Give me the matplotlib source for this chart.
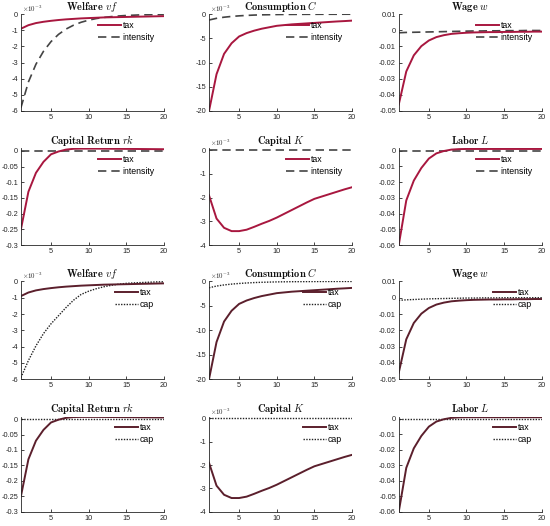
import numpy as np
import matplotlib
matplotlib.use("Agg")
import matplotlib.pyplot as plt
from matplotlib.ticker import FormatStrFormatter

plt.rcParams['mathtext.fontset'] = 'cm'
plt.rcParams['axes.unicode_minus'] = False
plt.rcParams['font.family'] = ['Liberation Sans', 'DejaVu Sans']

periods = np.arange(1, 21)

# impulse responses (welfare, consumption, capital in units of 1e-3)
welfare_tax = [-0.90, -0.68, -0.55, -0.47, -0.41, -0.36, -0.32, -0.29, -0.26, -0.24,
               -0.22, -0.20, -0.19, -0.18, -0.17, -0.16, -0.15, -0.14, -0.13, -0.12]
welfare_intensity = [-5.8, -4.2, -3.1, -2.3, -1.7, -1.25, -0.92, -0.68, -0.50, -0.37,
                     -0.27, -0.20, -0.15, -0.11, -0.08, -0.06, -0.04, -0.03, -0.02, -0.02]
welfare_cap = [-5.9, -4.85, -3.95, -3.2, -2.6, -2.1, -1.6, -1.15, -0.80, -0.60,
               -0.45, -0.33, -0.24, -0.17, -0.12, -0.09, -0.07, -0.05, -0.03, -0.02]

cons_tax = [-20.0, -12.4, -8.2, -6.0, -4.6, -3.9, -3.4, -3.0, -2.7, -2.4,
            -2.25, -2.1, -2.0, -1.9, -1.8, -1.7, -1.6, -1.5, -1.42, -1.33]
cons_intensity = [-1.2, -0.85, -0.62, -0.46, -0.34, -0.25, -0.18, -0.13, -0.10, -0.07,
                  -0.05, -0.04, -0.03, -0.02, -0.02, -0.01, -0.01, -0.01, 0.0, 0.0]
cons_cap = [-1.3, -0.95, -0.72, -0.55, -0.42, -0.32, -0.24, -0.18, -0.14, -0.10,
            -0.08, -0.06, -0.05, -0.04, -0.03, -0.02, -0.02, -0.01, -0.01, -0.01]

wage_tax = [-0.046, -0.0255, -0.0155, -0.0098, -0.0063, -0.0042, -0.0030, -0.0022, -0.0018, -0.0015,
            -0.0013, -0.0012, -0.0011, -0.0011, -0.0010, -0.0010, -0.0009, -0.0009, -0.0008, -0.0008]
wage_intensity = [-0.0015, -0.0013, -0.0012, -0.0011, -0.0010, -0.0009, -0.0008, -0.0007, -0.0006, -0.0005,
                  -0.0004, -0.0004, -0.0003, -0.0003, -0.0002, -0.0002, -0.0002, -0.0001, -0.0001, -0.0001]
wage_cap = [-0.0016, -0.0013, -0.0011, -0.0009, -0.0007, -0.0006, -0.0005, -0.0004, -0.0003, -0.0002,
            -0.0002, -0.0001, -0.0001, -0.0001, 0.0, 0.0, 0.0, 0.0, 0.0, 0.0]

rk_tax = [-0.25, -0.13, -0.07, -0.035, -0.011, -0.002, 0.004, 0.0065, 0.007, 0.007,
          0.007, 0.0068, 0.0066, 0.0064, 0.0062, 0.006, 0.0058, 0.0056, 0.0054, 0.0052]
rk_intensity = [-0.001] * 20
rk_cap = [-0.0005] * 20

capital_tax = [-1.90, -2.88, -3.27, -3.41, -3.41, -3.35, -3.23, -3.10, -2.98, -2.84,
               -2.68, -2.52, -2.36, -2.20, -2.05, -1.95, -1.85, -1.75, -1.65, -1.56]
capital_intensity = [0.03] * 20
capital_cap = [0.04] * 20

labor_tax = [-0.060, -0.0316, -0.019, -0.011, -0.005, -0.0017, -0.0002, 0.0007, 0.0010, 0.0011,
             0.0011, 0.0011, 0.0011, 0.0011, 0.0011, 0.0011, 0.0011, 0.0011, 0.0011, 0.0011]
labor_intensity = [-0.0004] * 20
labor_cap = [-0.0003] * 20

titles = [r'$\mathbf{Welfare}\ vf$', r'$\mathbf{Consumption}\ C$', r'$\mathbf{Wage}\ w$',
          r'$\mathbf{Capital\ Return}\ rk$', r'$\mathbf{Capital}\ K$', r'$\mathbf{Labor}\ L$']
tax_series = [welfare_tax, cons_tax, wage_tax, rk_tax, capital_tax, labor_tax]
alt_series = {
    'intensity': [welfare_intensity, cons_intensity, wage_intensity, rk_intensity, capital_intensity, labor_intensity],
    'cap': [welfare_cap, cons_cap, wage_cap, rk_cap, capital_cap, labor_cap],
}
ylims = [(-6, 0), (-20, 0), (-0.05, 0.01), (-0.3, 0.008), (-4, 0.08), (-0.06, 0.0015)]
yticks = [[-6, -5, -4, -3, -2, -1, 0],
          [-20, -15, -10, -5, 0],
          [-0.05, -0.04, -0.03, -0.02, -0.01, 0, 0.01],
          [-0.3, -0.25, -0.2, -0.15, -0.1, -0.05, 0],
          [-4, -3, -2, -1, 0],
          [-0.06, -0.05, -0.04, -0.03, -0.02, -0.01, 0]]
scaled = [True, True, False, False, True, False]

lefts = [0.038, 0.38, 0.725]
bottoms = [0.789, 0.534, 0.279, 0.027]
heights = [0.184, 0.184, 0.186, 0.181]

fig = plt.figure(figsize=(5.5, 5.26), dpi=100)

for block, (alt_name, tax_color, alt_style) in enumerate([
        ('intensity', '#a8173f', dict(color='#444444', linestyle=(0, (5, 3)), linewidth=1.2)),
        ('cap', '#5b1f2c', dict(color='#222222', linestyle=(0, (1, 1)), linewidth=1.0))]):
    for k in range(6):
        row = block * 2 + k // 3
        col = k % 3
        ax = fig.add_axes([lefts[col], bottoms[row], 0.26, heights[row]])
        ax.plot(periods, alt_series[alt_name][k], **alt_style)
        h1, = ax.plot(periods, tax_series[k], color=tax_color, linewidth=1.4)
        h2, = ax.plot([], [], **alt_style)
        ax.set_xlim(1, 20)
        ax.set_ylim(*ylims[k])
        ax.set_xticks([5, 10, 15, 20])
        ax.set_yticks(yticks[k])
        ax.yaxis.set_major_formatter(FormatStrFormatter('%g'))
        ax.tick_params(direction='in', length=2, width=0.6, labelsize=5.3, colors='#262626', pad=2)
        for s in ['top', 'right']:
            ax.spines[s].set_visible(False)
        for s in ['left', 'bottom']:
            ax.spines[s].set_linewidth(0.6)
            ax.spines[s].set_color('#262626')
        ax.set_title(titles[k], fontsize=7.5, pad=3, color='#111111')
        if scaled[k]:
            ax.text(0.01, 1.0, r'$\times10^{-3}$', transform=ax.transAxes, fontsize=5,
                    color='#262626', va='bottom', ha='left')
        lx = 0.54 if alt_name == 'intensity' else 0.66
        ax.legend([h1, h2], ['tax', alt_name], loc='upper left', bbox_to_anchor=(lx, 0.93),
                  frameon=False, fontsize=6.3, handlelength=2.6, handletextpad=0.2,
                  labelspacing=0.3, borderpad=0, borderaxespad=0)

fig.savefig('out.png', dpi=100)
